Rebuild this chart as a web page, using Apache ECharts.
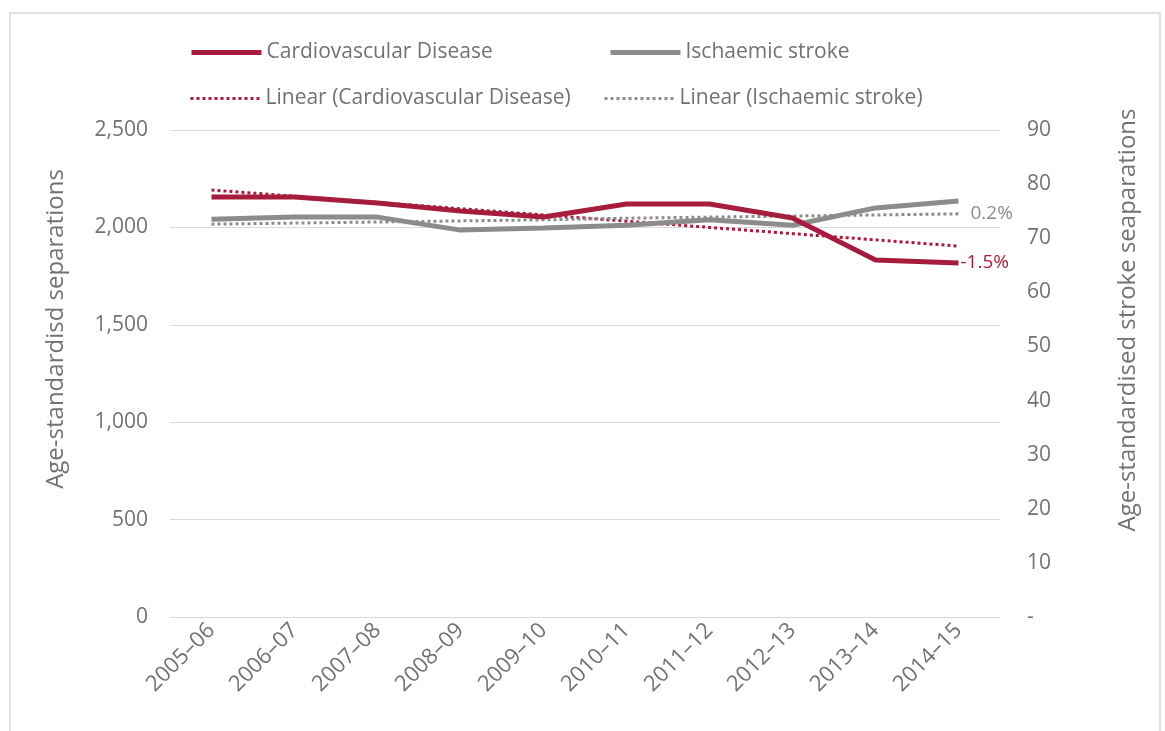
<!DOCTYPE html>
<html>
<head>
<meta charset="utf-8">
<script src="https://cdn.jsdelivr.net/npm/echarts@6/dist/echarts.min.js"></script>
<style>
html,body{margin:0;padding:0;background:#fff;}
#chart{width:1165px;height:731px;}
</style>
</head>
<body>
<div id="chart"></div>
<script>
const categories = ['2005–06','2006–07','2007–08','2008–09','2009–10','2010–11','2011–12','2012–13','2013–14','2014–15'];
const cvd = [2156, 2156, 2125, 2084, 2053, 2120, 2120, 2048, 1833, 1817];
const stroke = [73.5, 73.9, 73.9, 71.5, 71.9, 72.4, 73.4, 72.4, 75.6, 76.9];
const cvdTrend = [2192, 2160, 2128, 2096, 2064, 2032, 2000, 1968, 1936, 1904];
const strokeTrend = [72.6, 72.8, 73.0, 73.2, 73.4, 73.7, 73.9, 74.1, 74.3, 74.5];
const cvdChange = '-1.5%';
const strokeChange = '0.2%';
const leftTitle = 'Age-standardisd separations';
const rightTitle = 'Age-standardised stroke seaparations';

const RED = '#a51c3c';
const GRAY = '#8c8c8c';
const TXT = '#727272';
const FONT = 'Open Sans';

const chart = echarts.init(document.getElementById('chart'));
function legendItem(name, left, top, color, width, type) {
  return {
    left: left, top: top, data: [name],
    itemWidth: 70, itemHeight: 14,
    selectedMode: false,
    itemStyle: {opacity: 0},
    lineStyle: {color: color, width: width, type: type},
    textStyle: {fontFamily: FONT, fontSize: 21, color: TXT}
  };
}
chart.setOption({
  animation: false,
  graphic: [{
    type: 'rect', silent: true, z: -10,
    shape: {x: 10, y: 13, width: 1150, height: 740},
    style: {fill: 'none', stroke: '#d9d9d9', lineWidth: 1.5}
  }, {
    type: 'text', silent: true, x: 56, y: 329, rotation: Math.PI / 2,
    style: {text: leftTitle, fill: TXT, font: '24px "Open Sans"', align: 'center', verticalAlign: 'middle'}
  }, {
    type: 'text', silent: true, x: 1128, y: 320, rotation: Math.PI / 2,
    style: {text: rightTitle, fill: TXT, font: '24px "Open Sans"', align: 'center', verticalAlign: 'middle'}
  }],
  legend: [
    legendItem('Cardiovascular Disease', 184, 37, RED, 5, 'solid'),
    legendItem('Ischaemic stroke', 603, 37, GRAY, 5, 'solid'),
    legendItem('Linear (Cardiovascular Disease)', 184, 83, RED, 3, [3, 3]),
    legendItem('Linear (Ischaemic stroke)', 598, 83, GRAY, 3, [3, 3])
  ],
  grid: {left: 170, right: 165, top: 130, bottom: 114},
  xAxis: {
    type: 'category', data: categories, boundaryGap: true,
    axisLine: {show: false}, axisTick: {show: false},
    axisLabel: {rotate: 45, fontFamily: FONT, fontSize: 22, color: TXT, margin: 10, padding: [0, 0, 0, 0]}
  },
  yAxis: [{
    type: 'value', min: 0, max: 2500, interval: 500,
    axisLine: {show: false}, axisTick: {show: false},
    axisLabel: {fontFamily: FONT, fontSize: 21, color: TXT, margin: 22,
      formatter: v => v.toLocaleString('en-US')},
    splitLine: {lineStyle: {color: '#d9d9d9', width: 1}}
  }, {
    type: 'value', min: 0, max: 90, interval: 10, position: 'right',
    axisLine: {show: false}, axisTick: {show: false},
    axisLabel: {fontFamily: FONT, fontSize: 21, color: TXT, margin: 27,
      formatter: v => v === 0 ? '-' : String(v)},
    splitLine: {show: false}
  }],
  series: [{
    name: 'Cardiovascular Disease', type: 'line', yAxisIndex: 0, data: cvd,
    symbol: 'none', z: 5,
    lineStyle: {color: RED, width: 5}, itemStyle: {color: RED},
    endLabel: {show: true, formatter: cvdChange, color: RED, fontFamily: FONT, fontSize: 19, distance: 2}
  }, {
    name: 'Ischaemic stroke', type: 'line', yAxisIndex: 1, data: stroke,
    symbol: 'none', z: 4,
    lineStyle: {color: GRAY, width: 5}, itemStyle: {color: GRAY}
  }, {
    name: 'Linear (Cardiovascular Disease)', type: 'line', yAxisIndex: 0, data: cvdTrend,
    symbol: 'none', z: 3,
    lineStyle: {color: RED, width: 3, type: [3, 3]}, itemStyle: {color: RED}
  }, {
    name: 'Linear (Ischaemic stroke)', type: 'line', yAxisIndex: 1, data: strokeTrend,
    symbol: 'none', z: 3,
    lineStyle: {color: GRAY, width: 3, type: [3, 3]}, itemStyle: {color: GRAY},
    endLabel: {show: true, formatter: strokeChange, color: GRAY, fontFamily: FONT, fontSize: 19, distance: 12}
  }]
});
</script>
</body>
</html>
